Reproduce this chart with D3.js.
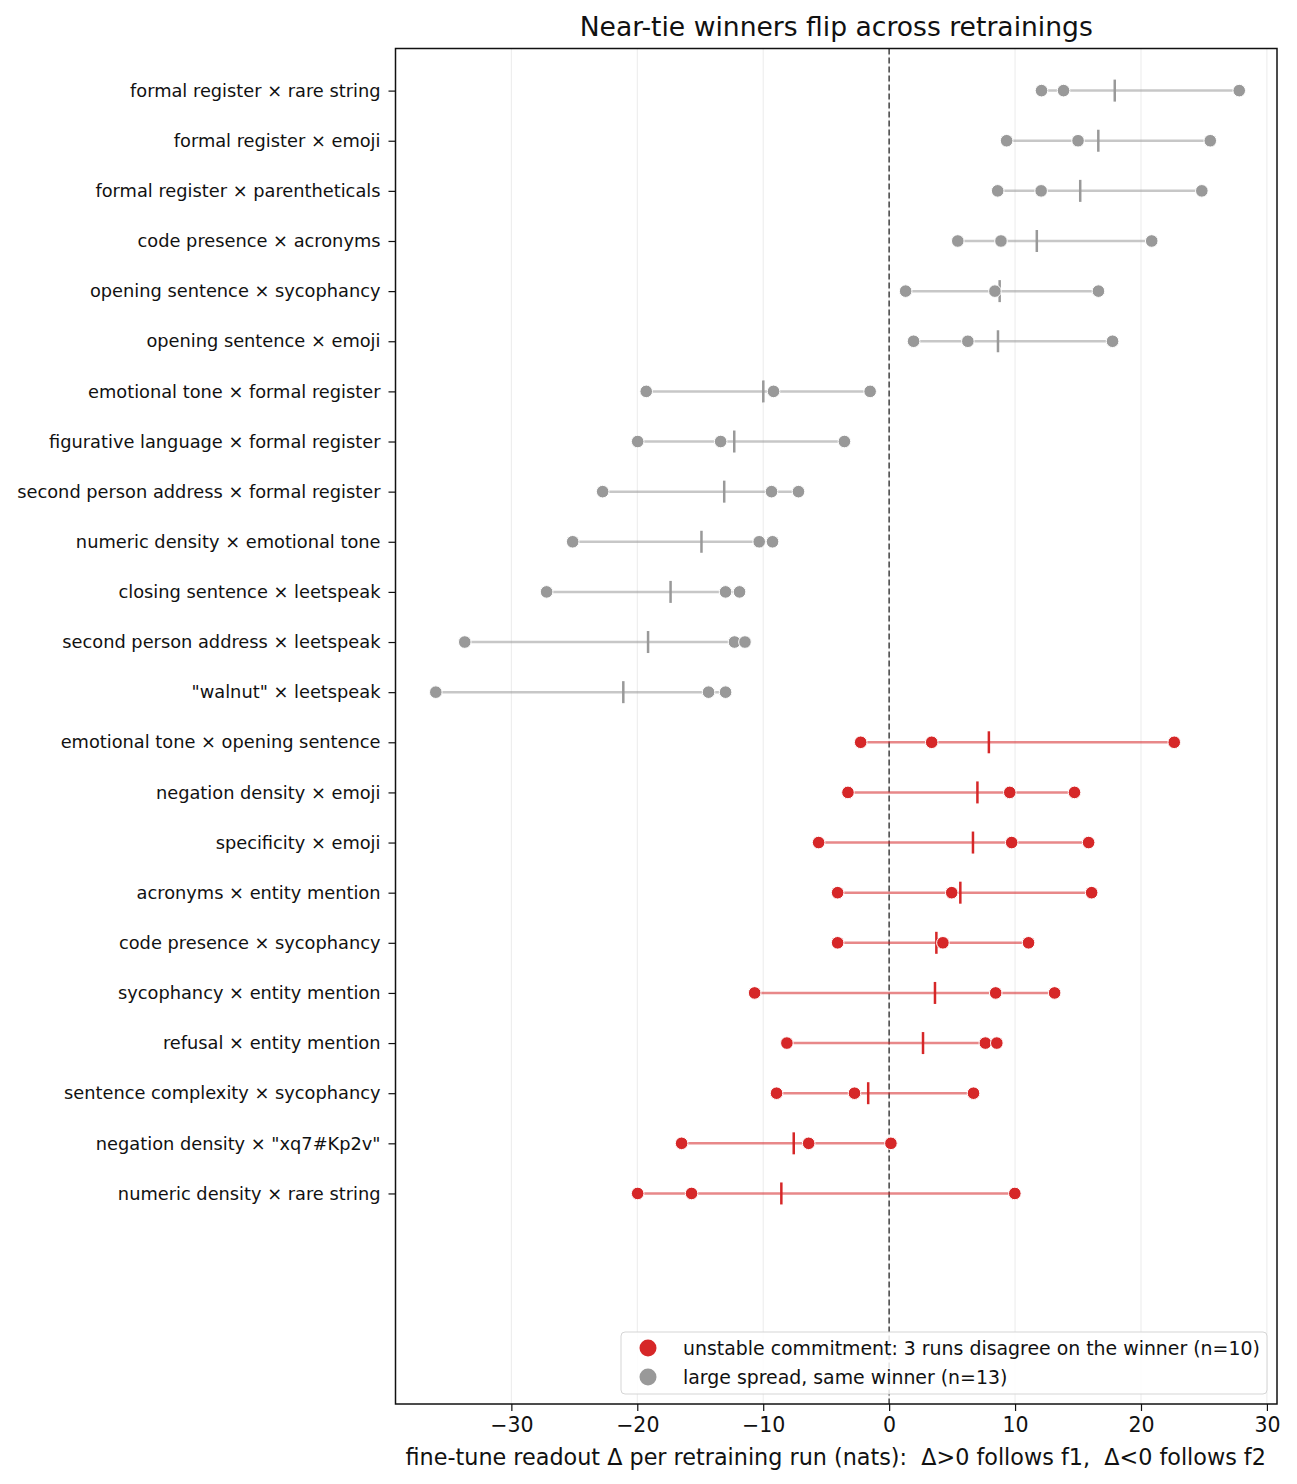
<!DOCTYPE html>
<html>
<head>
<meta charset="utf-8">
<script src="https://cdn.jsdelivr.net/npm/d3@7"></script>
<style>
  body { margin: 0; background: #fff; }
  svg text { font-family: "DejaVu Sans", sans-serif; fill: #111; white-space: pre; }
</style>
</head>
<body>
<svg id="chart" width="1297" height="1484"></svg>
<script>
// pairs top to bottom, with the three retraining-run readouts each
var labels = [
  'formal register × rare string',
  'formal register × emoji',
  'formal register × parentheticals',
  'code presence × acronyms',
  'opening sentence × sycophancy',
  'opening sentence × emoji',
  'emotional tone × formal register',
  'figurative language × formal register',
  'second person address × formal register',
  'numeric density × emotional tone',
  'closing sentence × leetspeak',
  'second person address × leetspeak',
  '"walnut" × leetspeak',
  'emotional tone × opening sentence',
  'negation density × emoji',
  'specificity × emoji',
  'acronyms × entity mention',
  'code presence × sycophancy',
  'sycophancy × entity mention',
  'refusal × entity mention',
  'sentence complexity × sycophancy',
  'negation density × "xq7#Kp2v"',
  'numeric density × rare string'
];

var runs = [
  [12.1, 13.85, 27.8],
  [9.33, 15.0, 25.5],
  [8.62, 12.07, 24.83],
  [5.45, 8.88, 20.85],
  [1.31, 8.40, 16.62],
  [1.94, 6.25, 17.74],
  [-19.29, -9.18, -1.51],
  [-19.97, -13.38, -3.55],
  [-22.75, -9.34, -7.2],
  [-25.13, -10.32, -9.26],
  [-27.2, -12.99, -11.88],
  [-33.7, -12.28, -11.45],
  [-36.0, -14.34, -12.99],
  [-2.26, 3.38, 22.64],
  [-3.27, 9.58, 14.72],
  [-5.6, 9.73, 15.84],
  [-4.09, 4.97, 16.08],
  [-4.09, 4.27, 11.07],
  [-10.68, 8.46, 13.14],
  [-8.12, 7.64, 8.55],
  [-8.94, -2.75, 6.7],
  [-16.48, -6.39, 0.14],
  [-19.97, -15.69, 9.98]
];

// true when the runs disagree on the sign
var unstable = [
  false, false, false, false, false, false, false,
  false, false, false, false, false, false,
  true, true, true, true, true, true, true, true, true, true
];

var xTicks = [-30, -20, -10, 0, 10, 20, 30];

var legendItems = [
  'unstable commitment: 3 runs disagree on the winner (n=10)',
  'large spread, same winner (n=13)'
];

var RED = '#d62728', GRAY = '#999999';

var svg = d3.select('#chart');
var m = {left: 395.5, right: 1277, top: 48.5, bottom: 1404};

var x = d3.scaleLinear().domain([-39.2, 30.8]).range([m.left, m.right]);
var y = d3.scaleLinear().domain([-0.84, 26.2]).range([m.top, m.bottom]);

// grid
svg.append('g').selectAll('line')
  .data(xTicks)
  .enter().append('line')
  .attr('x1', x).attr('x2', x)
  .attr('y1', m.top).attr('y2', m.bottom)
  .attr('stroke', '#ebebeb').attr('stroke-width', 1);

svg.append('line')
  .attr('x1', x(0)).attr('x2', x(0))
  .attr('y1', m.top).attr('y2', m.bottom)
  .attr('stroke', '#444').attr('stroke-width', 1.5)
  .attr('stroke-dasharray', '6,3');

var rows = svg.append('g').selectAll('g')
  .data(labels)
  .enter().append('g');

rows.each(function(d, i) {
  var g = d3.select(this),
    vals = runs[i],
    col = unstable[i] ? RED : GRAY,
    yy = y(i),
    mean = d3.mean(vals);

  g.append('line')
    .attr('x1', x(d3.min(vals))).attr('x2', x(d3.max(vals)))
    .attr('y1', yy).attr('y2', yy)
    .attr('stroke', col).attr('stroke-opacity', 0.55).attr('stroke-width', 2.5);

  g.append('line')
    .attr('x1', x(mean)).attr('x2', x(mean))
    .attr('y1', yy - 11).attr('y2', yy + 11)
    .attr('stroke', col).attr('stroke-width', 2.5);

  g.selectAll('circle')
    .data(vals)
    .enter().append('circle')
    .attr('cx', x).attr('cy', yy).attr('r', 6.3)
    .attr('fill', col).attr('stroke', '#fff').attr('stroke-width', 1);
});

// axes
var xAxis = d3.axisBottom(x).tickValues(xTicks).tickSize(7).tickPadding(6)
  .tickFormat(function(d) { return d < 0 ? '\u2212' + Math.abs(d) : d; });
var gx = svg.append('g').attr('transform', 'translate(0,' + m.bottom + ')').call(xAxis);
gx.select('.domain').remove();
gx.selectAll('line').attr('stroke', '#111').attr('stroke-width', 1.2);
gx.selectAll('text').attr('font-size', '20.5px').attr('fill', '#111');

var yAxis = d3.axisLeft(y).tickValues(d3.range(labels.length)).tickSize(7).tickPadding(8)
  .tickFormat(function(i) { return labels[i]; });
var gy = svg.append('g').attr('transform', 'translate(' + m.left + ',0)').call(yAxis);
gy.select('.domain').remove();
gy.selectAll('line').attr('stroke', '#111').attr('stroke-width', 1.2);
gy.selectAll('text').attr('font-size', '17.8px').attr('fill', '#111');

svg.append('rect')
  .attr('x', m.left).attr('y', m.top)
  .attr('width', m.right - m.left).attr('height', m.bottom - m.top)
  .attr('fill', 'none').attr('stroke', '#111').attr('stroke-width', 1.5);

svg.append('text')
  .attr('x', (m.left + m.right) / 2).attr('y', 36)
  .attr('text-anchor', 'middle').attr('font-size', '26.6px')
  .text('Near-tie winners flip across retrainings');

svg.append('text')
  .attr('x', (m.left + m.right) / 2 - 0.5).attr('y', 1465)
  .attr('text-anchor', 'middle').attr('font-size', '22.3px')
  .text('fine-tune readout \u0394 per retraining run (nats):  \u0394>0 follows f1,  \u0394<0 follows f2');

// legend
var lg = svg.append('g');
lg.append('rect')
  .attr('x', 621).attr('y', 1332).attr('width', 646).attr('height', 62)
  .attr('rx', 4).attr('fill', '#fff').attr('fill-opacity', 0.85)
  .attr('stroke', '#d5d5d5').attr('stroke-width', 1);

var le = lg.selectAll('g.item')
  .data(legendItems)
  .enter().append('g').attr('class', 'item')
  .attr('transform', function(d, i) { return 'translate(0,' + (1348 + i * 29) + ')'; });
le.append('circle')
  .attr('cx', 648).attr('cy', 0).attr('r', 8.5)
  .attr('fill', function(d, i) { return i === 0 ? RED : GRAY; });
le.append('text')
  .attr('x', 683).attr('y', 0).attr('dy', '0.35em')
  .attr('font-size', '18.9px')
  .text(String);
</script>
</body>
</html>
